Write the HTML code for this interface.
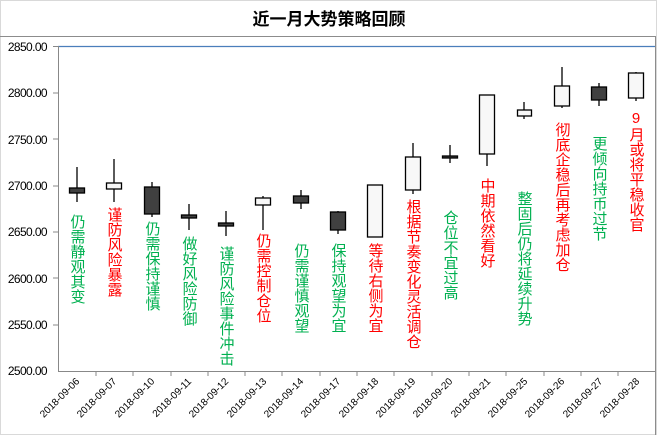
<!DOCTYPE html>
<html><head><meta charset="utf-8"><style>
body{margin:0;background:#fff;}
svg{display:block;font-family:"Liberation Sans","Noto Sans CJK SC",sans-serif;}
</style></head><body>
<svg width="657" height="435" viewBox="0 0 657 435" xmlns="http://www.w3.org/2000/svg">
<rect x="0.5" y="0.5" width="656" height="434" fill="#fff" stroke="#d9d9d9"/>
<text x="329" y="25" text-anchor="middle" font-size="17" font-weight="bold" fill="#000">近一月大势策略回顾</text>
<line x1="0" y1="36.5" x2="655" y2="36.5" stroke="#8c8c8c"/>
<line x1="655.5" y1="36" x2="655.5" y2="435" stroke="#8c8c8c"/>
<line x1="58" y1="46.5" x2="655" y2="46.5" stroke="#4a7ebb" stroke-width="1.2"/>
<line x1="58.5" y1="46" x2="58.5" y2="371" stroke="#888"/>
<line x1="58" y1="371.5" x2="655" y2="371.5" stroke="#888"/>
<g font-size="12" text-anchor="end" fill="#000" letter-spacing="-0.6">
<text x="47" y="51">2850.00</text><text x="47" y="97">2800.00</text><text x="47" y="144">2750.00</text>
<text x="47" y="190">2700.00</text><text x="47" y="236">2650.00</text><text x="47" y="283">2600.00</text>
<text x="47" y="329">2550.00</text><text x="47" y="375">2500.00</text>
</g>
<g stroke="#888">
<line x1="53" y1="46.5" x2="58" y2="46.5"/><line x1="53" y1="93" x2="58" y2="93"/><line x1="53" y1="139" x2="58" y2="139"/>
<line x1="53" y1="186" x2="58" y2="186"/><line x1="53" y1="232" x2="58" y2="232"/><line x1="53" y1="278" x2="58" y2="278"/>
<line x1="53" y1="325" x2="58" y2="325"/>
<line x1="96" y1="371" x2="96" y2="376"/><line x1="133" y1="371" x2="133" y2="376"/><line x1="171" y1="371" x2="171" y2="376"/>
<line x1="208" y1="371" x2="208" y2="376"/><line x1="245" y1="371" x2="245" y2="376"/><line x1="282" y1="371" x2="282" y2="376"/>
<line x1="320" y1="371" x2="320" y2="376"/><line x1="357" y1="371" x2="357" y2="376"/><line x1="394" y1="371" x2="394" y2="376"/>
<line x1="432" y1="371" x2="432" y2="376"/><line x1="469" y1="371" x2="469" y2="376"/><line x1="506" y1="371" x2="506" y2="376"/>
<line x1="544" y1="371" x2="544" y2="376"/><line x1="581" y1="371" x2="581" y2="376"/><line x1="618" y1="371" x2="618" y2="376"/>
</g>
<g font-size="10" fill="#000" text-anchor="end">
<text transform="translate(80,382) rotate(-45)">2018-09-06</text>
<text transform="translate(117,382) rotate(-45)">2018-09-07</text>
<text transform="translate(155,382) rotate(-45)">2018-09-10</text>
<text transform="translate(192,382) rotate(-45)">2018-09-11</text>
<text transform="translate(229,382) rotate(-45)">2018-09-12</text>
<text transform="translate(267,382) rotate(-45)">2018-09-13</text>
<text transform="translate(304,382) rotate(-45)">2018-09-14</text>
<text transform="translate(341,382) rotate(-45)">2018-09-17</text>
<text transform="translate(379,382) rotate(-45)">2018-09-18</text>
<text transform="translate(416,382) rotate(-45)">2018-09-19</text>
<text transform="translate(453,382) rotate(-45)">2018-09-20</text>
<text transform="translate(491,382) rotate(-45)">2018-09-21</text>
<text transform="translate(528,382) rotate(-45)">2018-09-25</text>
<text transform="translate(565,382) rotate(-45)">2018-09-26</text>
<text transform="translate(603,382) rotate(-45)">2018-09-27</text>
<text transform="translate(640,382) rotate(-45)">2018-09-28</text>
</g>
<g stroke="#000" stroke-width="1.3">
<line x1="77" y1="167" x2="77" y2="202"/><rect x="69.5" y="188" width="15" height="5" fill="#404040"/>
<line x1="114" y1="159" x2="114" y2="202"/><rect x="106.5" y="183" width="15" height="6" fill="#f8f8f8"/>
<line x1="152" y1="182" x2="152" y2="217"/><rect x="144.5" y="187" width="15" height="27" fill="#404040"/>
<line x1="189" y1="204" x2="189" y2="230"/><rect x="181.5" y="215" width="15" height="3" fill="#404040"/>
<line x1="226" y1="211" x2="226" y2="236"/><rect x="218.5" y="223" width="15" height="3" fill="#404040"/>
<line x1="263" y1="196" x2="263" y2="230"/><rect x="255.5" y="198" width="15" height="7" fill="#f8f8f8"/>
<line x1="301" y1="190" x2="301" y2="209"/><rect x="293.5" y="196" width="15" height="7" fill="#404040"/>
<line x1="338" y1="211" x2="338" y2="234"/><rect x="330.5" y="212" width="15" height="18" fill="#404040"/>
<rect x="367.5" y="185" width="15" height="52" fill="#f8f8f8"/>
<line x1="413" y1="143" x2="413" y2="194"/><rect x="405.5" y="157" width="15" height="33" fill="#f8f8f8"/>
<line x1="450" y1="145" x2="450" y2="163"/><rect x="442.5" y="156" width="15" height="2" fill="#404040"/>
<line x1="487" y1="95" x2="487" y2="166"/><rect x="479.5" y="95" width="15" height="59" fill="#f8f8f8"/>
<line x1="524" y1="102" x2="524" y2="119"/><rect x="517.5" y="110" width="14" height="6" fill="#f8f8f8"/>
<line x1="562" y1="67" x2="562" y2="108"/><rect x="554.5" y="86" width="15" height="20" fill="#f8f8f8"/>
<line x1="599" y1="83" x2="599" y2="106"/><rect x="591.5" y="87" width="15" height="13" fill="#404040"/>
<line x1="636" y1="72" x2="636" y2="101"/><rect x="628.5" y="73" width="15" height="25" fill="#f8f8f8"/>
</g>
<g font-size="15" style="writing-mode:vertical-rl;text-orientation:upright" text-anchor="start">
<text x="77" y="214" fill="#00b050">仍需静观其变</text>
<text x="114" y="207" fill="#ff0000">谨防风险暴露</text>
<text x="152" y="221" fill="#00b050">仍需保持谨慎</text>
<text x="189" y="236" fill="#00b050">做好风险防御</text>
<text x="226" y="246" fill="#00b050">谨防风险事件冲击</text>
<text x="263" y="233" fill="#ff0000">仍需控制仓位</text>
<text x="301" y="243" fill="#00b050">仍需谨慎观望</text>
<text x="338" y="243" fill="#00b050">保持观望为宜</text>
<text x="375" y="243" fill="#ff0000">等待右侧为宜</text>
<text x="413" y="199" fill="#ff0000">根据节奏变化灵活调仓</text>
<text x="450" y="210" fill="#00b050">仓位不宜过高</text>
<text x="487" y="178" fill="#ff0000">中期依然看好</text>
<text x="524" y="191" fill="#00b050">整固后仍将延续升势</text>
<text x="562" y="122" fill="#ff0000">彻底企稳后再考虑加仓</text>
<text x="599" y="136" fill="#00b050">更倾向持币过节</text>
<text x="636" y="110" fill="#ff0000">9月或将平稳收官</text>
</g>
</svg>
</body></html>
